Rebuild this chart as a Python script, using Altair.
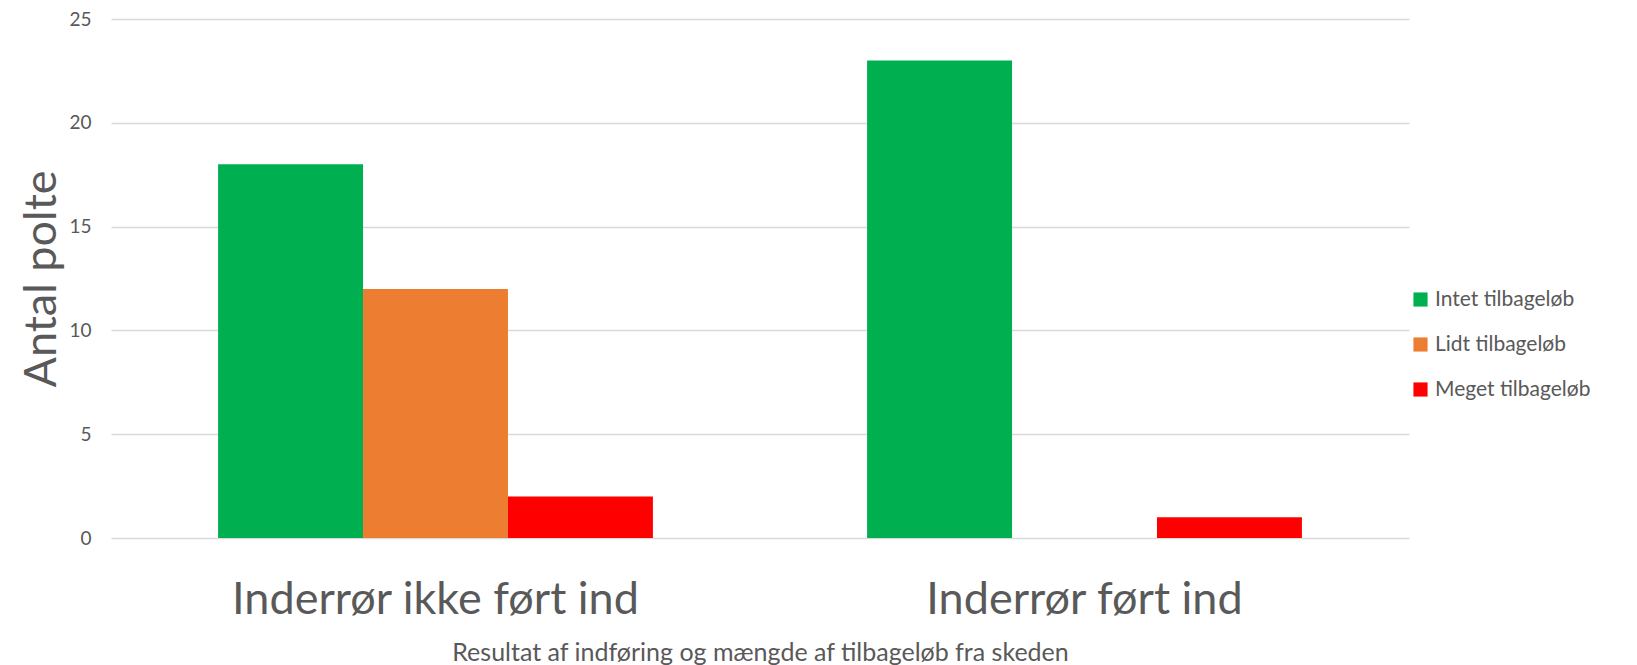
import altair as alt
import pandas as pd

categories = ["Inderrør ikke ført ind", "Inderrør ikke ført ind", "Inderrør ikke ført ind",
              "Inderrør ført ind", "Inderrør ført ind", "Inderrør ført ind"]
series = ["Intet tilbageløb", "Lidt tilbageløb", "Meget tilbageløb",
          "Intet tilbageløb", "Lidt tilbageløb", "Meget tilbageløb"]
values = [18, 12, 2, 23, 0, 1]

series_order = ["Intet tilbageløb", "Lidt tilbageløb", "Meget tilbageløb"]
series_colors = ["#00B050", "#ED7D31", "#FF0000"]
cat_order = ["Inderrør ikke ført ind", "Inderrør ført ind"]

df = pd.DataFrame({"kategori": categories, "serie": series, "antal": values})

FONT = "Lato"
TXT = "#595959"

chart = alt.Chart(df).mark_bar().encode(
    x=alt.X("kategori:N", sort=cat_order,
            scale=alt.Scale(paddingInner=0.33, paddingOuter=0.165),
            axis=alt.Axis(title="Resultat af indføring og mængde af tilbageløb fra skeden",
                          labelAngle=0, labelFontSize=45, labelColor=TXT, labelFont=FONT,
                          labelLimit=0, labelPadding=39,
                          titleFontSize=25, titleColor=TXT, titleFont=FONT,
                          titleFontWeight="normal", titlePadding=18,
                          domain=False, ticks=False)),
    xOffset=alt.XOffset("serie:N", sort=series_order, scale=alt.Scale(paddingInner=0, paddingOuter=0)),
    y=alt.Y("antal:Q", scale=alt.Scale(domain=[0, 25]),
            axis=alt.Axis(title="Antal polte", values=[0, 5, 10, 15, 20, 25],
                          labelFontSize=19, labelColor=TXT, labelFont=FONT, labelPadding=20,
                          titleFontSize=45, titleColor=TXT, titleFont=FONT,
                          titleFontWeight="normal", titlePadding=4,
                          domain=False, ticks=False, gridColor="#D9D9D9", gridWidth=1.3)),
    color=alt.Color("serie:N", sort=series_order,
                    scale=alt.Scale(domain=series_order, range=series_colors),
                    legend=alt.Legend(title=None, labelFontSize=21, labelColor=TXT, labelFont=FONT,
                                      labelLimit=0,
                                      symbolType="square", symbolSize=200, symbolStrokeWidth=0,
                                      rowPadding=23, orient="none", legendX=1299, legendY=270)),
).properties(
    width=1298, height=519,
    padding={"left": 11, "top": 2, "right": 0, "bottom": 0},
).configure_view(stroke=None)

chart.save("out.html", embed_options={"renderer": "svg", "actions": False})
